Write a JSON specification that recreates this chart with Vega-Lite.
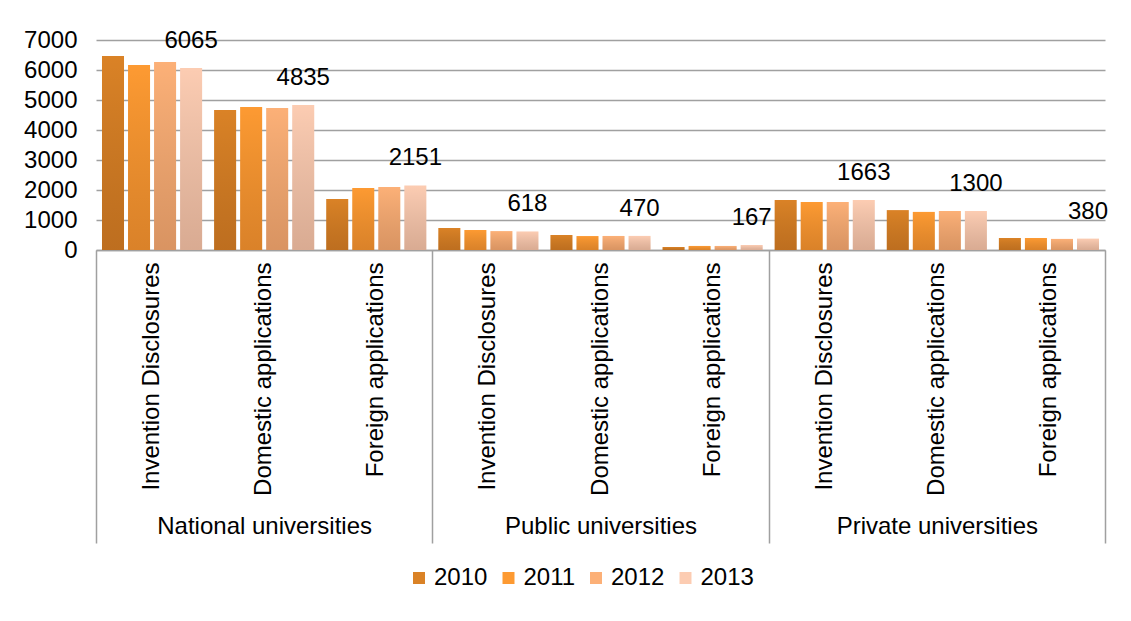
{
  "$schema": "https://vega.github.io/schema/vega-lite/v6.json",
  "width": 1009,
  "height": 210,
  "autosize": {"type": "none"},
  "padding": {"left": 96, "top": 40, "right": 26, "bottom": 371},
  "background": "white",
  "config": {
    "font": "Liberation Sans",
    "view": {"stroke": null}
  },
  "data": {
    "values": [
      {"cat": "National universities|Invention Disclosures", "year": "2010", "value": 6470},
      {"cat": "National universities|Invention Disclosures", "year": "2011", "value": 6170},
      {"cat": "National universities|Invention Disclosures", "year": "2012", "value": 6270},
      {"cat": "National universities|Invention Disclosures", "year": "2013", "value": 6065},
      {"cat": "National universities|Domestic applications", "year": "2010", "value": 4670},
      {"cat": "National universities|Domestic applications", "year": "2011", "value": 4770},
      {"cat": "National universities|Domestic applications", "year": "2012", "value": 4730},
      {"cat": "National universities|Domestic applications", "year": "2013", "value": 4835},
      {"cat": "National universities|Foreign applications", "year": "2010", "value": 1700},
      {"cat": "National universities|Foreign applications", "year": "2011", "value": 2070},
      {"cat": "National universities|Foreign applications", "year": "2012", "value": 2100},
      {"cat": "National universities|Foreign applications", "year": "2013", "value": 2151},
      {"cat": "Public universities|Invention Disclosures", "year": "2010", "value": 730},
      {"cat": "Public universities|Invention Disclosures", "year": "2011", "value": 670},
      {"cat": "Public universities|Invention Disclosures", "year": "2012", "value": 630},
      {"cat": "Public universities|Invention Disclosures", "year": "2013", "value": 618},
      {"cat": "Public universities|Domestic applications", "year": "2010", "value": 500},
      {"cat": "Public universities|Domestic applications", "year": "2011", "value": 465},
      {"cat": "Public universities|Domestic applications", "year": "2012", "value": 468},
      {"cat": "Public universities|Domestic applications", "year": "2013", "value": 470},
      {"cat": "Public universities|Foreign applications", "year": "2010", "value": 100},
      {"cat": "Public universities|Foreign applications", "year": "2011", "value": 135},
      {"cat": "Public universities|Foreign applications", "year": "2012", "value": 135},
      {"cat": "Public universities|Foreign applications", "year": "2013", "value": 167},
      {"cat": "Private universities|Invention Disclosures", "year": "2010", "value": 1670},
      {"cat": "Private universities|Invention Disclosures", "year": "2011", "value": 1600},
      {"cat": "Private universities|Invention Disclosures", "year": "2012", "value": 1600},
      {"cat": "Private universities|Invention Disclosures", "year": "2013", "value": 1663},
      {"cat": "Private universities|Domestic applications", "year": "2010", "value": 1330},
      {"cat": "Private universities|Domestic applications", "year": "2011", "value": 1270},
      {"cat": "Private universities|Domestic applications", "year": "2012", "value": 1300},
      {"cat": "Private universities|Domestic applications", "year": "2013", "value": 1300},
      {"cat": "Private universities|Foreign applications", "year": "2010", "value": 400},
      {"cat": "Private universities|Foreign applications", "year": "2011", "value": 400},
      {"cat": "Private universities|Foreign applications", "year": "2012", "value": 370},
      {"cat": "Private universities|Foreign applications", "year": "2013", "value": 380}
    ]
  },
  "encoding": {
    "xOffset": {"field": "year", "type": "nominal", "scale": {"paddingInner": 0.154, "paddingOuter": 0.23}},
    "y": {
      "field": "value", "type": "quantitative",
      "scale": {"domain": [0, 7000], "nice": false},
      "axis": {
        "title": null, "values": [0, 1000, 2000, 3000, 4000, 5000, 6000, 7000], "format": "d",
        "labelFontSize": 24, "labelColor": "#000000", "labelPadding": 19, "labelOverlap": false,
        "ticks": false, "domain": false,
        "grid": true, "gridColor": "#a0a0a0", "gridWidth": 1.5
      }
    }
  },
  "layer": [
    {
      "mark": {"type": "bar"},
      "encoding": {
        "x": {
          "field": "cat", "type": "nominal",
          "sort": ["National universities|Invention Disclosures", "National universities|Domestic applications", "National universities|Foreign applications", "Public universities|Invention Disclosures", "Public universities|Domestic applications", "Public universities|Foreign applications", "Private universities|Invention Disclosures", "Private universities|Domestic applications", "Private universities|Foreign applications"],
          "scale": {"paddingInner": 0, "paddingOuter": 0},
          "axis": {
            "orient": "bottom", "title": null,
            "labelExpr": "split(datum.value, '|')[1]",
            "labelAngle": -90, "labelFontSize": 24, "labelColor": "#000000",
            "labelLimit": 400, "labelPadding": 12, "labelOverlap": false,
            "ticks": false, "grid": false,
            "domain": true, "domainColor": "#a0a0a0", "domainWidth": 1.5
          }
        },
        "color": {
          "field": "year", "type": "nominal",
          "scale": {"domain": ["2010", "2011", "2012", "2013"], "range": ["#DA8226", "#FD9A32", "#FCB077", "#FCCCB2"]},
          "legend": {
            "title": null, "orient": "none", "direction": "horizontal",
            "legendX": 311, "legendY": 526, "padding": 0,
            "symbolType": "square", "symbolSize": 144, "symbolStrokeWidth": 0,
            "labelFontSize": 24, "labelColor": "#000000", "labelOffset": 3, "columnPadding": 8.5
          }
        }
      }
    },
    {
      "mark": {
        "type": "bar",
        "fill": {
          "gradient": "linear", "x1": 0, "y1": 0, "x2": 0, "y2": 1,
          "stops": [{"offset": 0, "color": "rgba(0,0,0,0)"}, {"offset": 1, "color": "rgba(60,20,0,0.18)"}]
        }
      },
      "encoding": {
        "x": {
          "field": "cat", "type": "nominal",
          "sort": ["National universities|Invention Disclosures", "National universities|Domestic applications", "National universities|Foreign applications", "Public universities|Invention Disclosures", "Public universities|Domestic applications", "Public universities|Foreign applications", "Private universities|Invention Disclosures", "Private universities|Domestic applications", "Private universities|Foreign applications"],
          "axis": {
            "orient": "bottom", "title": null,
            "labelExpr": "datum.extra ? '' : (indexof(datum.value, 'Domestic') >= 0 ? split(datum.value, '|')[0] : '')",
            "labelAngle": 0, "labelAlign": "center", "labelBaseline": "top",
            "labelFontSize": 24, "labelColor": "#000000",
            "labelLimit": 400, "labelPadding": -29, "labelOverlap": false,
            "ticks": true, "tickBand": "extent", "tickSize": 293, "tickWidth": 1.5, "tickColor": "#a0a0a0",
            "tickOpacity": {"condition": {"test": "datum.extra || indexof(datum.value, 'Foreign') >= 0", "value": 1}, "value": 0},
            "grid": false, "domain": false
          }
        }
      }
    },
    {
      "transform": [{"filter": "datum.year == '2013'"}],
      "mark": {"type": "text", "fontSize": 24, "baseline": "alphabetic", "align": "center", "dy": -20, "color": "#000000"},
      "encoding": {
        "x": {
          "field": "cat", "type": "nominal",
          "sort": ["National universities|Invention Disclosures", "National universities|Domestic applications", "National universities|Foreign applications", "Public universities|Invention Disclosures", "Public universities|Domestic applications", "Public universities|Foreign applications", "Private universities|Invention Disclosures", "Private universities|Domestic applications", "Private universities|Foreign applications"],
          "axis": null
        },
        "text": {"field": "value", "type": "quantitative", "format": "d"}
      }
    }
  ],
  "resolve": {"axis": {"x": "independent"}}
}
